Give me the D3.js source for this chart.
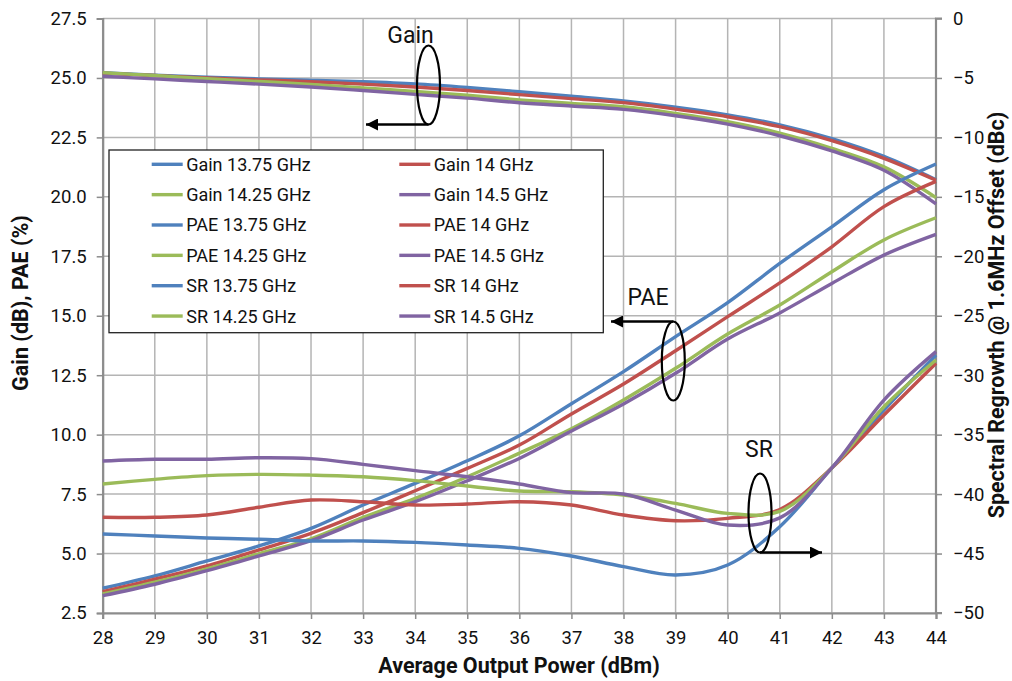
<!DOCTYPE html>
<html><head><meta charset="utf-8">
<script src="https://cdn.jsdelivr.net/npm/d3@7"></script>
<style>body{margin:0;background:#fff;}svg{display:block;font-family:Roboto,"Noto Sans",sans-serif;}</style>
</head><body><svg id="c" width="1012" height="681"></svg>
<script>
const power = [28,29,30,31,32,33,34,35,36,37,38,39,40,41,42,43,44];
const freqs = ["13.75 GHz","14 GHz","14.25 GHz","14.5 GHz"];
const colors = ["#4f81bd","#c0504d","#9bbb59","#8064a2"];
const leftTicks = [2.5,5.0,7.5,10.0,12.5,15.0,17.5,20.0,22.5,25.0,27.5];
const rightTicks = [-50,-45,-40,-35,-30,-25,-20,-15,-10,-5,0];

const gain1375 = [25.22,25.12,25.03,24.96,24.90,24.84,24.75,24.60,24.42,24.23,24.03,23.77,23.45,23.03,22.45,21.70,20.72];
const gain14   = [25.20,25.10,25.00,24.92,24.84,24.74,24.62,24.47,24.30,24.13,23.96,23.69,23.37,22.95,22.36,21.62,20.70];
const gain1425 = [25.22,25.10,24.97,24.85,24.73,24.58,24.43,24.27,24.08,23.93,23.79,23.51,23.16,22.68,22.04,21.26,19.97];
const gain145  = [25.07,24.96,24.85,24.74,24.62,24.47,24.31,24.15,23.96,23.82,23.68,23.41,23.06,22.57,21.93,21.12,19.70];

const pae1375 = [3.54,4.06,4.69,5.32,6.06,7.04,7.95,8.90,9.95,11.30,12.65,14.12,15.55,17.20,18.74,20.30,21.38];
const pae14   = [3.40,3.92,4.48,5.15,5.85,6.72,7.64,8.58,9.56,10.87,12.13,13.53,14.96,16.38,17.90,19.59,20.65];
const pae1425 = [3.30,3.80,4.36,4.99,5.62,6.52,7.32,8.23,9.22,10.25,11.46,12.79,14.23,15.45,16.85,18.19,19.12];
const pae145  = [3.23,3.71,4.28,4.90,5.54,6.41,7.18,8.06,9.00,10.15,11.29,12.58,14.02,15.12,16.36,17.55,18.42];

const sr1375 = [-43.36,-43.52,-43.69,-43.80,-43.94,-43.94,-44.06,-44.28,-44.56,-45.21,-46.10,-46.80,-45.96,-42.74,-37.80,-32.93,-28.30];
const sr14   = [-41.95,-41.95,-41.76,-41.11,-40.50,-40.64,-40.92,-40.83,-40.64,-40.92,-41.76,-42.24,-42.04,-41.30,-37.80,-33.35,-29.00];
const sr1425 = [-39.15,-38.76,-38.45,-38.34,-38.40,-38.54,-38.87,-39.32,-39.74,-39.80,-40.08,-40.78,-41.62,-41.45,-37.80,-32.65,-28.72];
const sr145  = [-37.22,-37.07,-37.07,-36.94,-37.02,-37.50,-38.03,-38.54,-39.15,-39.88,-39.99,-41.34,-42.60,-42.00,-37.80,-32.09,-28.02];

const series = [
  {name:"Gain 13.75 GHz", v:gain1375, ax:"L", c:0},
  {name:"Gain 14 GHz", v:gain14, ax:"L", c:1},
  {name:"Gain 14.25 GHz", v:gain1425, ax:"L", c:2},
  {name:"Gain 14.5 GHz", v:gain145, ax:"L", c:3},
  {name:"PAE 13.75 GHz", v:pae1375, ax:"L", c:0},
  {name:"PAE 14 GHz", v:pae14, ax:"L", c:1},
  {name:"PAE 14.25 GHz", v:pae1425, ax:"L", c:2},
  {name:"PAE 14.5 GHz", v:pae145, ax:"L", c:3},
  {name:"SR 13.75 GHz", v:sr1375, ax:"R", c:0},
  {name:"SR 14 GHz", v:sr14, ax:"R", c:1},
  {name:"SR 14.25 GHz", v:sr1425, ax:"R", c:2},
  {name:"SR 14.5 GHz", v:sr145, ax:"R", c:3}
];

const svg = d3.select("#c");
const L = 102.7, R = 936, T = 18.5, B = 613;
const x = d3.scaleLinear().domain([28,44]).range([L,R]);
const yL = d3.scaleLinear().domain([2.5,27.5]).range([B,T]);
const yR = d3.scaleLinear().domain([-50,0]).range([B,T]);

// gridlines
const g = svg.append("g");
g.selectAll(".vg").data(power).join("line")
  .attr("x1",d=>x(d)).attr("x2",d=>x(d)).attr("y1",T).attr("y2",B)
  .attr("stroke","#b4b4b4").attr("stroke-width",1.5);
g.selectAll(".hg").data(leftTicks).join("line")
  .attr("x1",L).attr("x2",R).attr("y1",d=>yL(d)).attr("y2",d=>yL(d))
  .attr("stroke","#b4b4b4").attr("stroke-width",1.5);

// axes
const fmt = d3.format(".1f");
const axL = svg.append("g").attr("transform",`translate(${L},0)`)
  .call(d3.axisLeft(yL).tickValues(leftTicks).tickFormat(fmt).tickSize(6).tickPadding(10));
const axR = svg.append("g").attr("transform",`translate(${R},0)`)
  .call(d3.axisRight(yR).tickValues(rightTicks).tickFormat(d3.format("d")).tickSize(6).tickPadding(11));
const axB = svg.append("g").attr("transform",`translate(0,${B})`)
  .call(d3.axisBottom(x).tickValues(power).tickFormat(d3.format("d")).tickSize(6).tickPadding(12));
[axL,axR,axB].forEach(a=>{
  a.select(".domain").attr("stroke","#8c8c8c").attr("stroke-width",2.2);
  a.selectAll(".tick line").attr("stroke","#8c8c8c").attr("stroke-width",1.5);
  a.selectAll("text").attr("font-size",18.5).attr("fill","#111").attr("font-family","Roboto");
});
axR.select(".domain").attr("d",`M6,${T}H0V${B}H6`);

// lines
const line = d3.line().curve(d3.curveCatmullRom.alpha(0.5));
const lg = svg.append("g");
series.forEach(s=>{
  const ys = s.ax==="L"?yL:yR;
  lg.append("path")
    .attr("d", line(power.map((p,i)=>[x(p), ys(s.v[i])])))
    .attr("fill","none").attr("stroke",colors[s.c]).attr("stroke-width",3.4)
    .attr("stroke-linejoin","round");
});

// legend
const leg = svg.append("g");
leg.append("rect").attr("x",109).attr("y",150).attr("width",494.3).attr("height",182.7)
  .attr("fill","#fff").attr("stroke","#222").attr("stroke-width",1.3);
series.forEach((s,i)=>{
  const col = i%2, row = Math.floor(i/2);
  const lx = col===0?151.7:399.3;
  const ly = 164.3 + row*30.35;
  leg.append("line").attr("x1",lx).attr("x2",lx+31).attr("y1",ly).attr("y2",ly)
    .attr("stroke",colors[s.c]).attr("stroke-width",3.4);
  leg.append("text").attr("x",lx+34.5).attr("y",ly).attr("dy","0.36em")
    .attr("font-size",18).attr("fill","#111").text(s.name);
});

// annotations
svg.append("defs").append("marker").attr("id","ah").attr("viewBox","0 0 10 10")
  .attr("refX",10).attr("refY",5).attr("markerWidth",16).attr("markerHeight",12)
  .attr("markerUnits","userSpaceOnUse").attr("orient","auto")
  .append("path").attr("d","M0,0L10,5L0,10Z").attr("fill","#000");
const ann = [
  {t:"Gain", tx:410.5, ty:43, cx:428.5, cy:85, ax2:366},
  {t:"PAE", tx:648, ty:305, cx:673.3, cy:361, ax2:611},
  {t:"SR", tx:759, ty:457, cx:760, cy:513, ax2:822}
];
const an = svg.append("g");
ann.forEach(a=>{
  an.append("text").attr("x",a.tx).attr("y",a.ty).attr("text-anchor","middle")
    .attr("font-size",23).attr("fill","#111").text(a.t);
  an.append("ellipse").attr("cx",a.cx).attr("cy",a.cy).attr("rx",11.5).attr("ry",39.5)
    .attr("fill","none").attr("stroke","#000").attr("stroke-width",2.2);
  const yy = a.t==="PAE" ? a.cy-39.5 : a.cy+39.5;
  an.append("line").attr("x1",a.cx).attr("x2",a.ax2).attr("y1",yy).attr("y2",yy)
    .attr("stroke","#000").attr("stroke-width",2.5).attr("marker-end","url(#ah)");
});

// axis titles
svg.append("text").attr("x",519).attr("y",673).attr("text-anchor","middle")
  .attr("font-size",21.5).attr("font-weight","bold").attr("fill","#111").text("Average Output Power (dBm)");
svg.append("text").attr("transform","translate(28,303) rotate(-90)").attr("text-anchor","middle")
  .attr("font-size",21.5).attr("font-weight","bold").attr("fill","#111").text("Gain (dB), PAE (%)");
svg.append("text").attr("transform","translate(1004,315) rotate(-90)").attr("text-anchor","middle")
  .attr("font-size",21.5).attr("font-weight","bold").attr("fill","#111").text("Spectral Regrowth @ 1.6MHz Offset (dBc)");
</script></body></html>
